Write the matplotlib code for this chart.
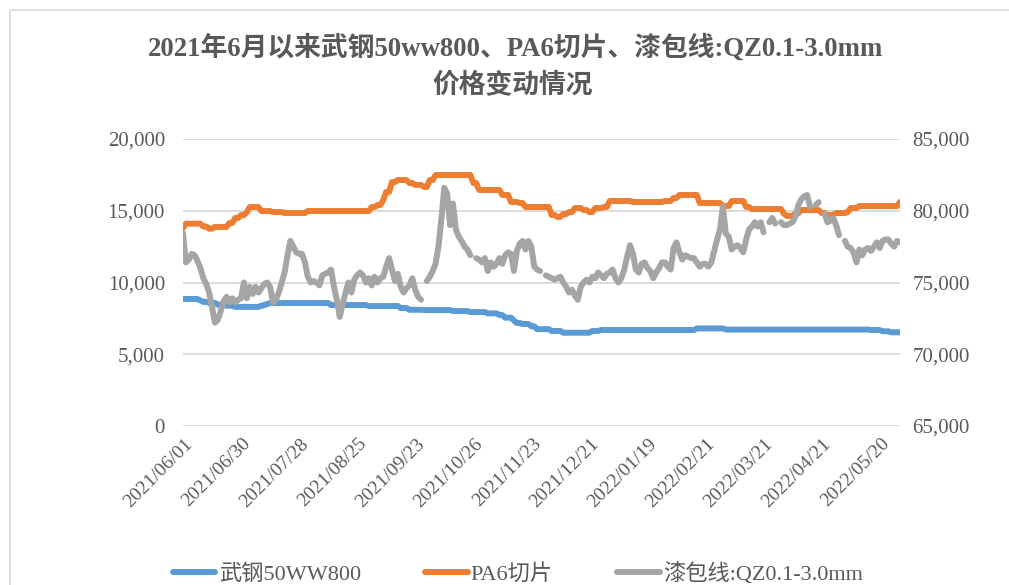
import matplotlib.pyplot as plt
import numpy as np
from matplotlib.patches import Rectangle
from matplotlib.transforms import ScaledTranslation

# 字体：拉丁字符用衬线体，中文回退到 Noto Sans CJK
plt.rcParams['font.family'] = ['Liberation Serif', 'Noto Sans CJK SC']
nan = np.nan

tick_labels = ['2021/06/01', '2021/06/30', '2021/07/28', '2021/08/25', '2021/09/23',
               '2021/10/26', '2021/11/23', '2021/12/21', '2022/01/19', '2022/02/21',
               '2022/03/21', '2022/04/21', '2022/05/20']

# 武钢50WW800 (左轴)
wg = [8850, 8850, 8850, 8850, 8850, 8850, 8750, 8650, 8650, 8580,
      8580, 8580, 8450, 8450, 8450, 8380, 8380, 8380, 8300, 8300,
      8300, 8300, 8300, 8300, 8300, 8300, 8300, 8380, 8430, 8500,
      8570, 8570, 8570, 8570, 8570, 8570, 8570, 8570, 8570, 8570,
      8570, 8570, 8570, 8570, 8570, 8570, 8570, 8570, 8570, 8570,
      8570, 8430, 8430, 8430, 8430, 8430, 8430, 8430, 8430, 8430,
      8430, 8430, 8430, 8430, 8360, 8360, 8360, 8360, 8360, 8360,
      8360, 8360, 8360, 8360, 8360, 8220, 8220, 8220, 8100, 8100,
      8100, 8100, 8100, 8080, 8080, 8080, 8080, 8080, 8080, 8080,
      8080, 8080, 8080, 8010, 8010, 8010, 8010, 8010, 8010, 7940,
      7940, 7940, 7940, 7940, 7940, 7850, 7850, 7850, 7850, 7730,
      7730, 7550, 7550, 7550, 7350, 7180, 7180, 7110, 7110, 7110,
      6950, 6950, 6750, 6750, 6750, 6750, 6750, 6620, 6620, 6620,
      6620, 6500, 6500, 6500, 6500, 6500, 6500, 6500, 6500, 6500,
      6500, 6620, 6620, 6620, 6690, 6690, 6690, 6690, 6690, 6690,
      6690, 6690, 6690, 6690, 6690, 6690, 6690, 6690, 6690, 6690,
      6690, 6690, 6690, 6690, 6690, 6690, 6690, 6690, 6690, 6690,
      6690, 6690, 6690, 6690, 6690, 6690, 6690, 6800, 6800, 6800,
      6800, 6800, 6800, 6800, 6800, 6800, 6800, 6720, 6720, 6720,
      6720, 6720, 6720, 6720, 6720, 6720, 6720, 6720, 6720, 6720,
      6720, 6720, 6720, 6720, 6720, 6720, 6720, 6720, 6720, 6720,
      6720, 6720, 6720, 6720, 6720, 6720, 6720, 6720, 6720, 6720,
      6720, 6720, 6720, 6720, 6720, 6720, 6720, 6720, 6720, 6720,
      6720, 6720, 6720, 6720, 6720, 6720, 6720, 6690, 6690, 6690,
      6690, 6600, 6600, 6600, 6530, 6530, 6530, 6530]

# PA6切片 (右轴)
pa6 = [78800, 79100, 79100, 79100, 79100, 79100, 79100, 78900, 78900, 78750,
       78750, 78870, 78870, 78870, 78870, 78870, 79150, 79150, 79500, 79500,
       79700, 79700, 79910, 80260, 80260, 80260, 80260, 79980, 79980, 79980,
       79980, 79910, 79910, 79910, 79910, 79840, 79840, 79840, 79840, 79840,
       79840, 79840, 79840, 79980, 79980, 79980, 79980, 79980, 79980, 79980,
       79980, 79980, 79980, 79980, 79980, 79980, 79980, 79980, 79980, 79980,
       79980, 79980, 79980, 79980, 79980, 80260, 80260, 80400, 80400, 80750,
       81310, 81310, 82000, 82000, 82140, 82140, 82140, 82140, 81930, 81930,
       81800, 81800, 81800, 81660, 81660, 82140, 82140, 82490, 82490, 82490,
       82490, 82490, 82490, 82490, 82490, 82490, 82490, 82490, 82490, 82490,
       81930, 81930, 81450, 81450, 81450, 81450, 81450, 81450, 81450, 81450,
       81100, 81100, 81100, 80610, 80610, 80610, 80540, 80540, 80260, 80260,
       80260, 80260, 80260, 80260, 80260, 80260, 80260, 79700, 79700, 79570,
       79570, 79770, 79770, 79910, 79910, 80190, 80190, 80190, 80050, 80050,
       79910, 79910, 80190, 80190, 80190, 80260, 80260, 80680, 80680, 80680,
       80680, 80680, 80680, 80680, 80680, 80610, 80610, 80610, 80610, 80610,
       80610, 80610, 80610, 80610, 80610, 80610, 80680, 80680, 80680, 80890,
       80890, 81100, 81100, 81100, 81100, 81100, 81100, 81100, 80540, 80540,
       80540, 80540, 80540, 80540, 80540, 80540, 80330, 80330, 80330, 80680,
       80680, 80680, 80680, 80680, 80260, 80260, 80120, 80120, 80120, 80120,
       80120, 80120, 80120, 80120, 80120, 80120, 80120, 79800, 79640, 79640,
       79640, 79840, 79840, 80050, 80050, 80050, 80050, 80050, 80050, 80050,
       79840, 79840, 79700, 79700, 79700, 79840, 79840, 79840, 79840, 79910,
       80190, 80190, 80190, 80330, 80330, 80330, 80330, 80330, 80330, 80330,
       80330, 80330, 80330, 80330, 80330, 80330, 80330, 80610]

# 漆包线:QZ0.1-3.0mm (右轴)
qz = [78450, 76400, 76600, 77000, 76900, 76500, 76000, 75300, 74900, 74300,
      73300, 72200, 72400, 73000, 73700, 74000, 73600, 73900, 73600, 73800,
      73900, 75000, 73900, 74700, 74200, 74700, 74300, 74600, 74900, 75000,
      74700, 73600, 73800, 74300, 75000, 75700, 76900, 77900, 77500, 77100,
      77000, 77000, 76400, 75400, 75000, 75100, 75000, 74800, 75500, 75600,
      75700, 75900, 74700, 73800, 72600, 73500, 74300, 75000, 74300, 75200,
      75500, 75700, 75500, 75000, 75300, 74800, 75400, 75000, 75300, 75400,
      76100, 76700, 75900, 75100, 75600, 74700, 74300, 74600, 74800, 75300,
      74500, 74000, 73800, nan, 75100, 75400, 75800, 76300, 77500, 79400,
      81600, 81200, 79000, 80500, 78700, 78200, 77900, 77500, 77300, 76900,
      nan, 76700, 76600, 76400, 76700, 75800, 76400, 76100, 76300, 76700,
      76300, 76900, 77100, 77000, 75800, 77200, 77700, 77900, 77300, 77900,
      77500, 76100, 75900, 75800, nan, 75500, 75400, 75300, 75200, 75300,
      75400, 75000, 74700, 74300, 74500, 74100, 73800, 74700, 75000, 75200,
      75000, 75400, 75300, 75700, 75500, 75300, 75600, 75700, 75900, 75300,
      75000, 75300, 75900, 76800, 77600, 77000, 75900, 75700, 76300, 76400,
      76000, 75800, 75300, 75700, 76000, 76400, 76400, 76100, 75900, 77400,
      77800, 77100, 76600, 76900, 76800, 76700, 76700, 76400, 76100, 76300,
      76300, 76100, 76400, 77200, 78000, 78700, 80300, 78400, 78200, 77300,
      77500, 77600, 77400, 77100, 78000, 78700, 78900, 79200, 78900, 79200,
      78500, nan, 79200, 79500, 79100, nan, 79200, 79000, 79000, 79100,
      79200, 79600, 80400, 80800, 81000, 81100, 80300, nan, 80400, 80600,
      nan, 79800, 79200, 79300, 79500, 79000, 78300, nan, 77900, 77500,
      77400, 77100, 76400, 77300, 76900, 77300, 77400, 77200, 77500, 77800,
      77400, 77900, 78000, 78000, 77700, 77500, 77900, 77800]

names = ['武钢50WW800', 'PA6切片', '漆包线:QZ0.1-3.0mm']
colors = ['#5b9bd5', '#ed7d31', '#a5a5a5']
text_color = '#595959'

x = np.arange(len(wg))
W, H = 1009, 585

fig = plt.figure(figsize=(W / 100, H / 100), dpi=100)

# 图表外框
fig.patches.append(Rectangle((10 / W, -0.1), 1.2, 1 - 10 / H + 0.1, transform=fig.transFigure,
                             fill=False, edgecolor='#d9d9d9', lw=1.2))

ax = fig.add_axes([183 / W, 1 - 426 / H, (900 - 183) / W, (426 - 139) / H])
ax2 = ax.twinx()

l1, = ax.plot(x, wg, color=colors[0], lw=4.3, solid_capstyle='round', solid_joinstyle='round')
l2, = ax2.plot(x, pa6, color=colors[1], lw=4.3, solid_capstyle='round', solid_joinstyle='round')
l3, = ax2.plot(x, qz, color=colors[2], lw=4.3, solid_capstyle='round', solid_joinstyle='round')

ax.set_xlim(0, len(wg) - 1)
ax.set_ylim(0, 20000)
ax2.set_ylim(65000, 85000)
ax.set_yticks(np.arange(0, 20001, 5000))
ax2.set_yticks(np.arange(65000, 85001, 5000))
ax.yaxis.set_major_formatter(plt.FuncFormatter(lambda v, p: f'{v:,.0f}'))
ax2.yaxis.set_major_formatter(plt.FuncFormatter(lambda v, p: f'{v:,.0f}'))
ax.yaxis.grid(True, color='#d9d9d9', lw=1.3)
ax.set_axisbelow(True)

for a in (ax, ax2):
    for s in a.spines.values():
        s.set_visible(False)
ax.tick_params(axis='y', length=0, labelsize=15, labelcolor=text_color, pad=13)
ax2.tick_params(axis='y', length=0, labelsize=15, labelcolor=text_color, pad=9)

ax.set_xticks(np.arange(0, len(wg), 20))
ax.set_xticklabels(tick_labels, rotation=45, ha='right', va='center', rotation_mode='anchor')
ax.tick_params(axis='x', length=0, labelsize=14, labelcolor=text_color, pad=11)
offset = ScaledTranslation(7 / 100, 0, fig.dpi_scale_trans)
for lab in ax.get_xticklabels():
    lab.set_transform(lab.get_transform() + offset)

fig.text(516 / W, 1 - 48 / H, '2021年6月以来武钢50ww800、PA6切片、漆包线:QZ0.1-3.0mm',
         ha='center', va='center', fontsize=19.3, fontweight='bold', color=text_color)
fig.text(513 / W, 1 - 86 / H, '价格变动情况',
         ha='center', va='center', fontsize=19.3, fontweight='bold', color=text_color)

leg = fig.legend([l1, l2, l3], names, loc='center', bbox_to_anchor=(518 / W, 1 - 574 / H),
                 ncol=3, frameon=False, fontsize=16, handlelength=1.9, handletextpad=0.15,
                 columnspacing=2.9)
for t in leg.get_texts():
    t.set_color(text_color)

fig.savefig('out.png', dpi=100)
